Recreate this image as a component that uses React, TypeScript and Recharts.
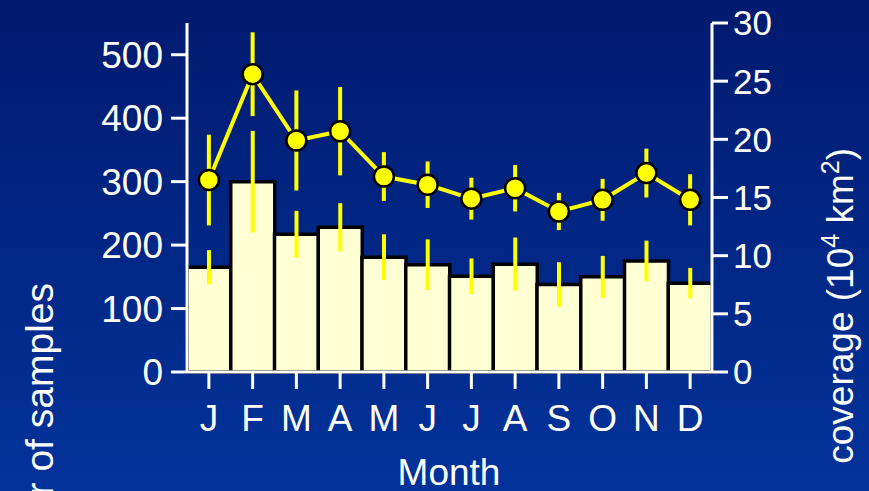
import React from 'react'
import {
    ComposedChart, Bar, Line, XAxis, YAxis, ErrorBar,
} from 'recharts'

// monthly values
const months = ['J', 'F', 'M', 'A', 'M', 'J', 'J', 'A', 'S', 'O', 'N', 'D']
const samples = [165, 300, 217, 228, 181, 169, 151, 170, 138, 150, 175, 140]
const samplesErr = [27, 80, 37, 38, 36, 40, 28, 42, 35, 33, 32, 24]
const coverage = [16.5, 25.6, 19.9, 20.7, 16.8, 16.1, 14.9, 15.8, 13.8, 14.8, 17.1, 14.8]
const coverageErr = [3.9, 3.6, 4.3, 3.8, 2.1, 2.0, 1.8, 2.0, 1.6, 1.8, 2.1, 2.2]

const leftTicks = [0, 100, 200, 300, 400, 500]
const rightTicks = [0, 5, 10, 15, 20, 25, 30]

const data = months.map((m, i) => ({
    month: m,
    samples: samples[i],
    samplesErr: samplesErr[i],
    coverage: coverage[i],
    coverageErr: coverageErr[i],
}))

const WHITE = '#ffffff'
const YELLOW = '#ffff00'
const FONT = '"Liberation Sans", Arial, sans-serif'

const LeftLabel = () => (
    <text x={53} y={283} transform="rotate(-90, 53, 283)" textAnchor="end"
        fill={WHITE} fontSize={39} fontFamily={FONT}>
        Number of samples
    </text>
)

const RightLabel = () => (
    <text x={853} y={148} transform="rotate(-90, 853, 148)" textAnchor="end"
        fill={WHITE} fontSize={37} fontFamily={FONT}>
        coverage (10<tspan dy={-14} fontSize={25}>4</tspan>
        <tspan dy={14}> km</tspan><tspan dy={-14} fontSize={25}>2</tspan><tspan dy={14}>)</tspan>
    </text>
)

const MonthLabel = () => (
    <text x={449} y={485} textAnchor="middle" fill={WHITE} fontSize={37} fontFamily={FONT}>
        Month
    </text>
)

export default function App() {
    return (
        <div style={{
            position: 'absolute', left: 0, top: 0, width: 869, height: 491,
            background: 'linear-gradient(180deg, #011a6f 0%, #02339b 100%)',
        }}>
            <ComposedChart
                width={869}
                height={491}
                data={data}
                margin={{ top: 23, right: 0, left: 0, bottom: 0 }}
                barCategoryGap={0}
                barGap={0}
                style={{ fontFamily: FONT }}
            >
                <XAxis
                    dataKey="month"
                    height={119}
                    axisLine={{ stroke: WHITE, strokeWidth: 3 }}
                    tickLine={{ stroke: WHITE, strokeWidth: 3 }}
                    tickSize={17}
                    tickMargin={16}
                    tick={{ fill: WHITE, fontSize: 37 }}
                    interval={0}
                    label={{ content: () => <MonthLabel /> }}
                />
                <YAxis
                    yAxisId="left"
                    width={187}
                    domain={[0, 550]}
                    ticks={leftTicks}
                    axisLine={{ stroke: WHITE, strokeWidth: 3 }}
                    tickLine={{ stroke: WHITE, strokeWidth: 3 }}
                    tickSize={16}
                    tickMargin={8}
                    tick={{ fill: WHITE, fontSize: 37 }}
                    label={{ content: () => <LeftLabel /> }}
                />
                <YAxis
                    yAxisId="right"
                    orientation="right"
                    width={157}
                    domain={[0, 30]}
                    ticks={rightTicks}
                    axisLine={{ stroke: WHITE, strokeWidth: 3 }}
                    tickLine={{ stroke: WHITE, strokeWidth: 3 }}
                    tickSize={16}
                    tickMargin={5}
                    tick={{ fill: WHITE, fontSize: 35 }}
                    label={{ content: () => <RightLabel /> }}
                />
                <Bar
                    yAxisId="left"
                    dataKey="samples"
                    fill="#ffffd4"
                    stroke="#000000"
                    strokeWidth={3.5}
                    isAnimationActive={false}
                >
                    <ErrorBar dataKey="samplesErr" direction="y" width={0} stroke={YELLOW} strokeWidth={4} />
                </Bar>
                <Line
                    yAxisId="right"
                    dataKey="coverage"
                    type="linear"
                    stroke={YELLOW}
                    strokeWidth={4}
                    dot={{ r: 10, fill: YELLOW, stroke: '#000000', strokeWidth: 2.5 }}
                    activeDot={false}
                    isAnimationActive={false}
                >
                    <ErrorBar dataKey="coverageErr" direction="y" width={0} stroke={YELLOW} strokeWidth={4} />
                </Line>
            </ComposedChart>
        </div>
    )
}
